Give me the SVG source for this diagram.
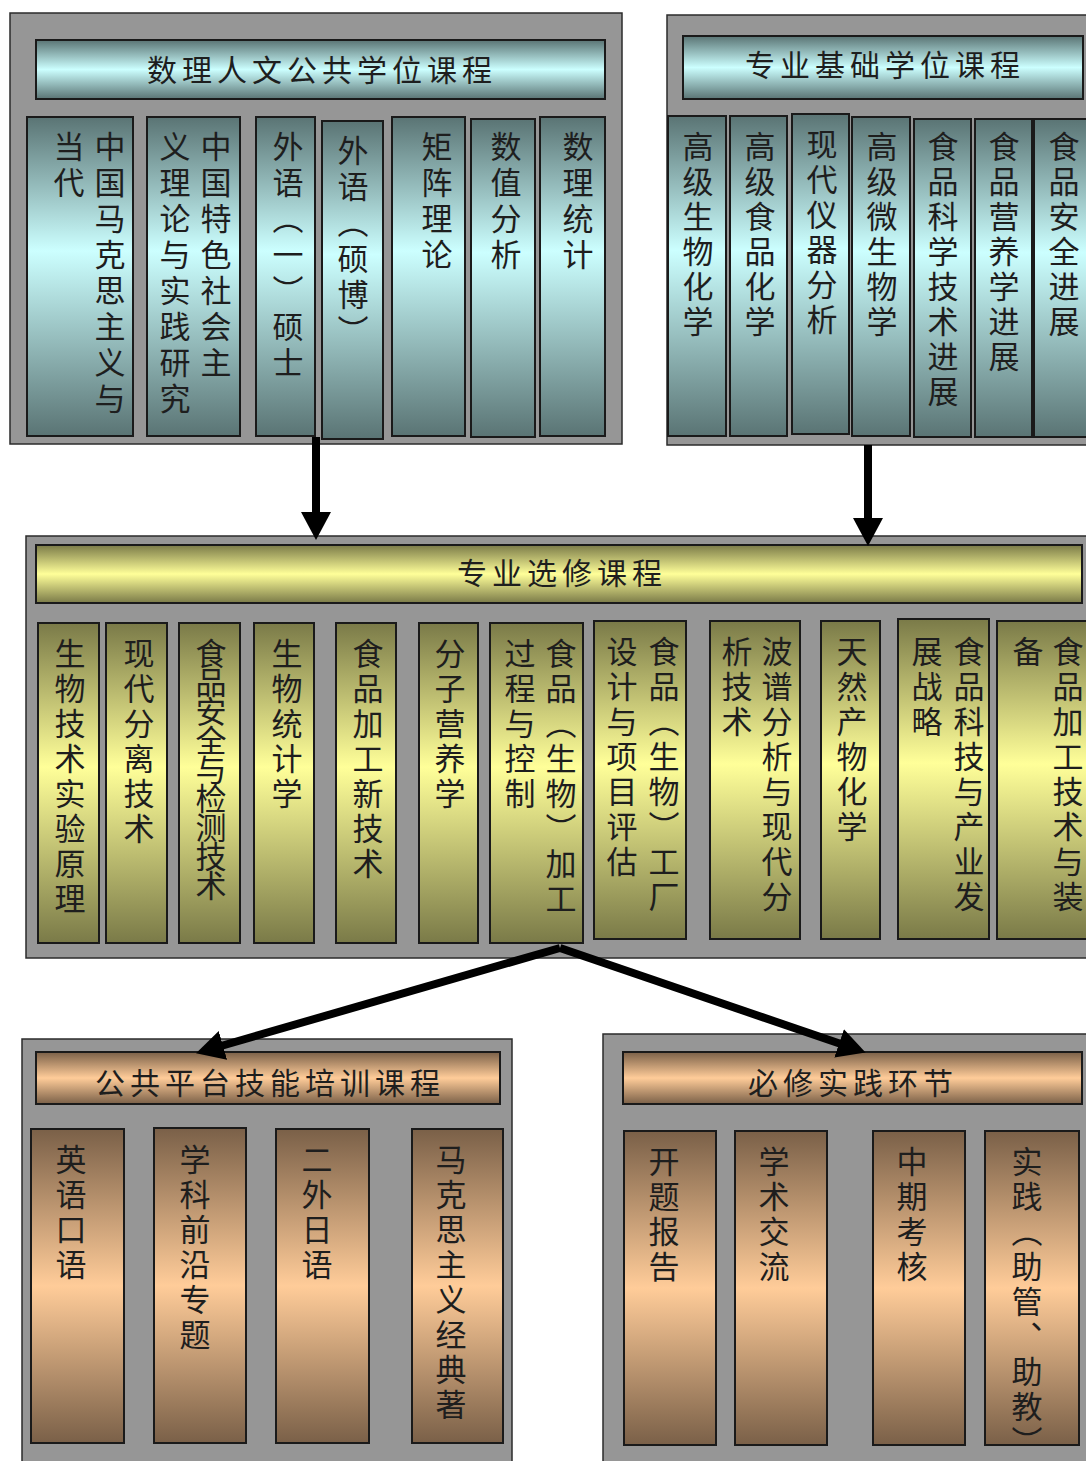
<svg xmlns="http://www.w3.org/2000/svg" width="1086" height="1461" viewBox="0 0 1086 1461">
<defs>
<linearGradient id="gCyanBar" x1="0" y1="0" x2="0" y2="1"><stop offset="0" stop-color="#5a7474"/><stop offset="0.5" stop-color="#ccffff"/><stop offset="1" stop-color="#5a7474"/></linearGradient>
<linearGradient id="gCyanCol" x1="0" y1="0" x2="0" y2="1"><stop offset="0" stop-color="#5a7474"/><stop offset="0.42" stop-color="#ccffff"/><stop offset="1" stop-color="#5a7474"/></linearGradient>
<linearGradient id="gOliveBar" x1="0" y1="0" x2="0" y2="1"><stop offset="0" stop-color="#7a7a48"/><stop offset="0.5" stop-color="#ffff99"/><stop offset="1" stop-color="#7a7a48"/></linearGradient>
<linearGradient id="gOliveCol" x1="0" y1="0" x2="0" y2="1"><stop offset="0" stop-color="#7a7a48"/><stop offset="0.45" stop-color="#ffff99"/><stop offset="1" stop-color="#7a7a48"/></linearGradient>
<linearGradient id="gBrownBar" x1="0" y1="0" x2="0" y2="1"><stop offset="0" stop-color="#7a6048"/><stop offset="0.5" stop-color="#ffcc99"/><stop offset="1" stop-color="#7a6048"/></linearGradient>
<linearGradient id="gBrownCol" x1="0" y1="0" x2="0" y2="1"><stop offset="0" stop-color="#7a6048"/><stop offset="0.5" stop-color="#ffcc99"/><stop offset="1" stop-color="#7a6048"/></linearGradient>
<marker id="ah" viewBox="0 -15 28 30" refX="2" refY="0" markerWidth="28" markerHeight="30" markerUnits="userSpaceOnUse" orient="auto"><path d="M0,-15 L28,0 L0,15 z" fill="#000"/></marker>
</defs>
<style>
.cont{fill:#969696;stroke:#2b2b2b;stroke-width:1.5}
.cb{fill:url(#gCyanBar);stroke:#1a1a1a;stroke-width:2}
.cc{fill:url(#gCyanCol);stroke:#1a1a1a;stroke-width:2}
.ob{fill:url(#gOliveBar);stroke:#1a1a1a;stroke-width:2}
.oc{fill:url(#gOliveCol);stroke:#1a1a1a;stroke-width:2}
.bb{fill:url(#gBrownBar);stroke:#1a1a1a;stroke-width:2}
.bc{fill:url(#gBrownCol);stroke:#1a1a1a;stroke-width:2}
text{font-family:"Noto Sans CJK SC","Noto Sans CJK JP",sans-serif;fill:#1e1e1e}
.ht{font-size:30px;text-anchor:middle;letter-spacing:5px}
.vt{font-size:31px;writing-mode:vertical-rl;letter-spacing:4px}
.vt5{letter-spacing:5px}
.squeeze{letter-spacing:-2px}
.conn{stroke:#000;stroke-width:8;fill:none;marker-end:url(#ah)}
</style>

<g id="n-public-degree">
<rect class="cont" x="10" y="13" width="612" height="431"/>
<rect class="cb" x="36" y="40" width="569" height="59"/>
<text class="ht" x="322" y="81">数理人文公共学位课程</text>
<rect class="cc" x="27" y="117" width="106" height="319"/>
<text class="vt vt5" x="110" y="131">中国马克思主义与</text>
<text class="vt vt5" x="69" y="131">当代</text>
<rect class="cc" x="147" y="117" width="93" height="319"/>
<text class="vt vt5" x="216" y="131">中国特色社会主</text>
<text class="vt vt5" x="175" y="131">义理论与实践研究</text>
<rect class="cc" x="256" y="117" width="59" height="319"/>
<text class="vt vt5" x="288" y="131">外语（一）硕士</text>
<rect class="cc" x="322" y="121" width="61" height="318"/>
<text class="vt vt5" x="353" y="135">外语（硕博）</text>
<rect class="cc" x="392" y="117" width="73" height="319"/>
<text class="vt vt5" x="437" y="131">矩阵理论</text>
<rect class="cc" x="471" y="119" width="64" height="318"/>
<text class="vt vt5" x="506" y="131">数值分析</text>
<rect class="cc" x="540" y="117" width="65" height="319"/>
<text class="vt vt5" x="578" y="131">数理统计</text>
</g>

<g id="n-major-basic">
<rect class="cont" x="667" y="15" width="430" height="430"/>
<rect class="cb" x="683" y="36" width="400" height="63"/>
<text class="ht" x="885" y="76">专业基础学位课程</text>
<rect class="cc" x="668" y="116" width="58" height="320"/>
<text class="vt" x="698" y="131">高级生物化学</text>
<rect class="cc" x="730" y="116" width="57" height="320"/>
<text class="vt" x="760" y="131">高级食品化学</text>
<rect class="cc" x="792" y="114" width="57" height="320"/>
<text class="vt" x="822" y="129">现代仪器分析</text>
<rect class="cc" x="852" y="117" width="58" height="319"/>
<text class="vt" x="882" y="131">高级微生物学</text>
<rect class="cc" x="914" y="119" width="57" height="318"/>
<text class="vt" x="943" y="131">食品科学技术进展</text>
<rect class="cc" x="975" y="119" width="57" height="318"/>
<text class="vt" x="1004" y="131">食品营养学进展</text>
<rect class="cc" x="1034" y="119" width="70" height="318"/>
<text class="vt" x="1064" y="131">食品安全进展</text>
</g>

<g id="n-major-elective">
<rect class="cont" x="26" y="536" width="1080" height="422"/>
<rect class="ob" x="36" y="545" width="1046" height="58"/>
<text class="ht" x="562" y="584">专业选修课程</text>
<rect class="oc" x="38" y="623" width="61" height="320"/>
<text class="vt" x="70" y="638">生物技术实验原理</text>
<rect class="oc" x="106" y="623" width="61" height="320"/>
<text class="vt" x="139" y="638">现代分离技术</text>
<rect class="oc" x="179" y="623" width="61" height="320"/>
<text class="vt squeeze" x="211" y="638">食品安全与检测技术</text>
<rect class="oc" x="254" y="623" width="60" height="320"/>
<text class="vt" x="287" y="638">生物统计学</text>
<rect class="oc" x="336" y="623" width="60" height="320"/>
<text class="vt" x="368" y="638">食品加工新技术</text>
<rect class="oc" x="419" y="623" width="59" height="320"/>
<text class="vt" x="450" y="638">分子营养学</text>
<rect class="oc" x="490" y="623" width="93" height="320"/>
<text class="vt" x="561" y="638">食品（生物）加工</text>
<text class="vt" x="520" y="638">过程与控制</text>
<rect class="oc" x="594" y="621" width="92" height="318"/>
<text class="vt" x="664" y="636">食品（生物）工厂</text>
<text class="vt" x="622" y="636">设计与项目评估</text>
<rect class="oc" x="710" y="621" width="90" height="318"/>
<text class="vt" x="777" y="636">波谱分析与现代分</text>
<text class="vt" x="737" y="636">析技术</text>
<rect class="oc" x="821" y="621" width="59" height="318"/>
<text class="vt" x="852" y="636">天然产物化学</text>
<rect class="oc" x="898" y="619" width="91" height="320"/>
<text class="vt" x="969" y="636">食品科技与产业发</text>
<text class="vt" x="927" y="636">展战略</text>
<rect class="oc" x="997" y="621" width="100" height="318"/>
<text class="vt" x="1068" y="636">食品加工技术与装</text>
<text class="vt" x="1028" y="636">备</text>
</g>

<g id="n-public-platform">
<rect class="cont" x="22" y="1039" width="490" height="430"/>
<rect class="bb" x="36" y="1052" width="464" height="52"/>
<text class="ht" x="270" y="1094">公共平台技能培训课程</text>
<rect class="bc" x="31" y="1129" width="93" height="314"/>
<text class="vt" x="71" y="1144">英语口语</text>
<rect class="bc" x="154" y="1128" width="92" height="315"/>
<text class="vt" x="195" y="1144">学科前沿专题</text>
<rect class="bc" x="276" y="1129" width="93" height="314"/>
<text class="vt" x="317" y="1144">二外日语</text>
<rect class="bc" x="412" y="1129" width="91" height="314"/>
<text class="vt" x="451" y="1144">马克思主义经典著</text>
</g>

<g id="n-practice">
<rect class="cont" x="603" y="1034" width="490" height="435"/>
<rect class="bb" x="623" y="1052" width="459" height="52"/>
<text class="ht" x="853" y="1094">必修实践环节</text>
<rect class="bc" x="624" y="1131" width="92" height="314"/>
<text class="vt" x="664" y="1146">开题报告</text>
<rect class="bc" x="735" y="1131" width="92" height="314"/>
<text class="vt" x="774" y="1146">学术交流</text>
<rect class="bc" x="873" y="1131" width="92" height="314"/>
<text class="vt" x="912" y="1146">中期考核</text>
<rect class="bc" x="985" y="1131" width="94" height="314"/>
<text class="vt" x="1027" y="1146">实践（助管、助教）</text>
</g>

<g id="connectors">
<line class="conn" x1="316" y1="437" x2="316" y2="514"/>
<line class="conn" x1="868" y1="445" x2="868" y2="520"/>
<line class="conn" x1="560" y1="948" x2="221" y2="1046"/>
<line class="conn" x1="560" y1="948" x2="841" y2="1044"/>
</g>
</svg>
